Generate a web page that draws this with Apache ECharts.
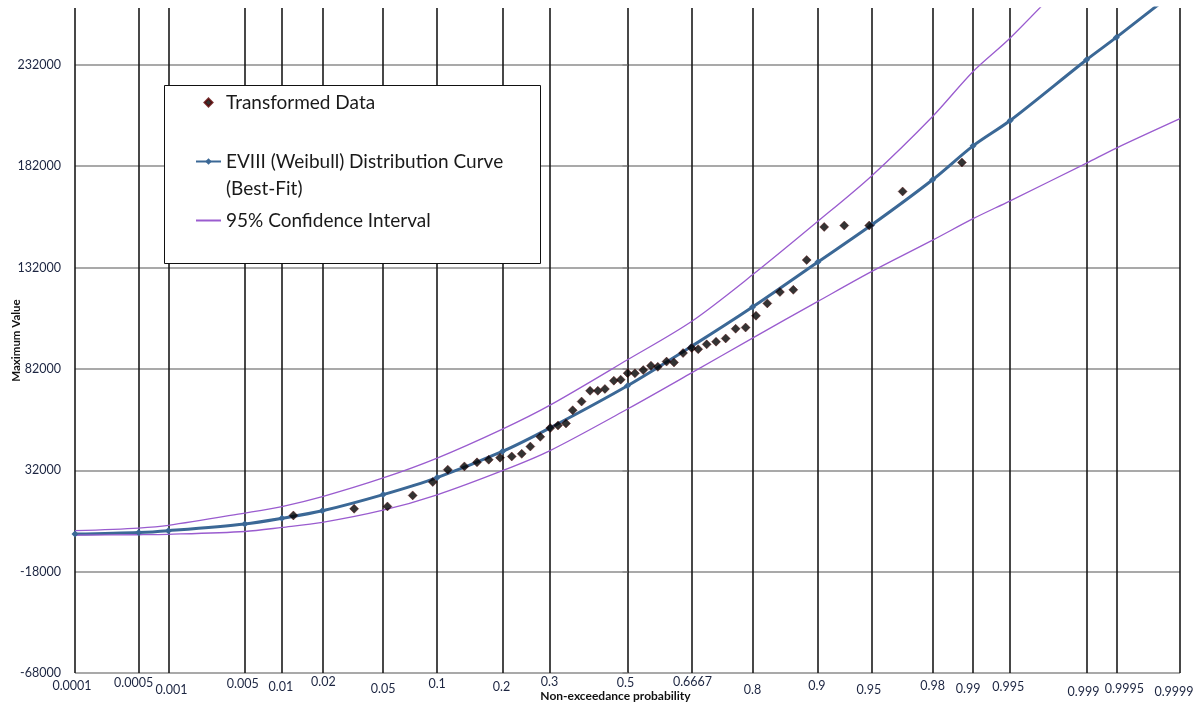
<!DOCTYPE html>
<html><head><meta charset="utf-8">
<script src="https://cdn.jsdelivr.net/npm/echarts@6/dist/echarts.min.js"></script>
<style>html,body{margin:0;padding:0;background:#fff}#c{width:1195px;height:704px}</style>
</head><body><div id="c"></div>
<script>
// ---- data ----
const tickProbabilities = [0.0001,0.0005,0.001,0.005,0.01,0.02,0.05,0.1,0.2,0.3,0.5,0.6667,0.8,0.9,0.95,0.98,0.99,0.995,0.999,0.9995,0.9999];
const tickLabels = ['0.0001','0.0005','0.001','0.005','0.01','0.02','0.05','0.1','0.2','0.3','0.5','0.6667','0.8','0.9','0.95','0.98','0.99','0.995','0.999','0.9995','0.9999'];
const yTickValues = [-68000,-18000,32000,82000,132000,182000,232000];
// EVIII (Weibull) best-fit curve, at the tick probabilities
const fittedValues = [500,1300,2200,5500,8300,12000,20000,28400,41300,52800,73700,93100,112500,134700,153100,175300,192000,204500,234500,245500,270000];
// 95% confidence interval, at the tick probabilities
const upperCI = [2200,3500,4800,10900,14100,19000,28200,38000,52300,64000,86500,105400,128400,154800,177300,206500,228700,245200,284000,299000,333000];
const lowerCI = [0,200,400,1800,3800,6300,12300,19900,31800,41600,62200,80000,97200,115300,130100,145500,156100,164900,183500,190900,205400];
// transformed data: standard normal variate of plotting position, and value
const dataZ = [-2.249,-1.840,-1.616,-1.446,-1.311,-1.210,-1.098,-1.013,-0.934,-0.858,-0.779,-0.712,-0.654,-0.587,-0.520,-0.468,-0.414,-0.369,-0.309,-0.252,-0.200,-0.152,-0.092,-0.046,0.001,0.050,0.106,0.158,0.204,0.263,0.313,0.374,0.432,0.476,0.533,0.596,0.661,0.728,0.795,0.865,0.941,1.026,1.116,1.206,1.324,1.459,1.627,1.852,2.251];
const dataValues = [9700,13000,14150,19600,26200,32300,33900,35900,37200,38200,38800,40100,43700,48500,52800,54100,55100,61600,65900,71200,71200,72100,76200,76700,79900,79800,81400,83600,83000,85600,85200,89800,92300,91700,94100,95400,97000,101800,102400,108200,114300,119900,121000,135700,152000,152700,152700,169500,183800];
// ---- style: per-label nudges of the probability labels (px) ----
const tickLabelDropY = [4,1,8,2,5,0,7,2,5,0,1,0,8,4,8,4,7,5,10,7,10];
const tickLabelShiftX = [-3,-5,3,-2,-1,1,0,0,-1,0,-2,1,0,-1,-3,0,-5,-2,-3,8,-6];

function invNorm(p){
  const a=[-3.969683028665376e+01,2.209460984245205e+02,-2.759285104469687e+02,1.383577518672690e+02,-3.066479806614716e+01,2.506628277459239e+00];
  const b=[-5.447609879822406e+01,1.615858368580409e+02,-1.556989798598866e+02,6.680131188771972e+01,-1.328068155288572e+01];
  const c=[-7.784894002430293e-03,-3.223964580411365e-01,-2.400758277161838e+00,-2.549732539343734e+00,4.374664141464968e+00,2.938163982698783e+00];
  const d=[7.784695709041462e-03,3.224671290700398e-01,2.445134137142996e+00,3.754408661907416e+00];
  const pl=0.02425, ph=1-pl; let q,r;
  if(p<pl){q=Math.sqrt(-2*Math.log(p));return (((((c[0]*q+c[1])*q+c[2])*q+c[3])*q+c[4])*q+c[5])/((((d[0]*q+d[1])*q+d[2])*q+d[3])*q+1);}
  if(p<=ph){q=p-0.5;r=q*q;return (((((a[0]*r+a[1])*r+a[2])*r+a[3])*r+a[4])*r+a[5])*q/(((((b[0]*r+b[1])*r+b[2])*r+b[3])*r+b[4])*r+1);}
  q=Math.sqrt(-2*Math.log(1-p));return -(((((c[0]*q+c[1])*q+c[2])*q+c[3])*q+c[4])*q+c[5])/((((d[0]*q+d[1])*q+d[2])*q+d[3])*q+1);
}
const tickZ = tickProbabilities.map(invNorm);

const FONT = 'Lato';
const LABEL = '#1c2541';
const rich = {};
tickLabels.forEach((t,i)=>{
  const dx = tickLabelShiftX[i];
  rich['t'+i] = {padding:[tickLabelDropY[i], dx<0?-2*dx:0, 0, dx>0?2*dx:0], fontSize:12.5, fontFamily:FONT, color:LABEL};
});

const CURVE = '#3b6896';
const CI = '#9a5ccf';
const chart = echarts.init(document.getElementById('c'), null, {renderer:'canvas'});
chart.setOption({
  animation:false,
  backgroundColor:'#fff',
  grid:{left:75,right:15,top:8,bottom:31,containLabel:false,outerBoundsMode:'none'},
  xAxis:{
    type:'value', min:tickZ[0], max:tickZ[tickZ.length-1],
    name:'Non-exceedance probability', nameLocation:'middle', nameGap:17, nameMoveOverlap:false,
    nameTextStyle:{fontFamily:FONT,fontSize:12,fontWeight:'bold',color:'#111',padding:[0,24,0,0]},
    axisLine:{show:false},
    axisTick:{show:false, customValues:tickZ},
    axisLabel:{customValues:tickZ, margin:2, hideOverlap:false,
      formatter:function(v){
        let i = tickZ.findIndex(z=>Math.abs(z-v)<1e-7);
        if(i<0) return '';
        return '{t'+i+'|'+tickLabels[i]+'}';
      }, rich:rich},
    splitLine:{show:true, lineStyle:{color:'#1a1a1a',width:1.6}}
  },
  yAxis:{
    type:'value', min:-68000, max:260000,
    name:'Maximum Value', nameLocation:'middle', nameGap:53, nameMoveOverlap:false,
    nameTextStyle:{fontFamily:FONT,fontSize:11.5,fontWeight:'bold',color:'#111'},
    axisLine:{show:false},
    axisTick:{show:true, length:5, customValues:yTickValues, lineStyle:{color:'#8c8c8c',width:1.6}},
    axisLabel:{customValues:yTickValues, margin:14, fontFamily:FONT, fontSize:12.5, color:LABEL,
      formatter:function(v){return String(Math.round(v));}},
    splitLine:{show:true, lineStyle:{color:'#8c8c8c',width:1.6}}
  },
  legend:{
    data:[
      {name:'Transformed Data', icon:'path://M5,0L10,5L5,10L0,5Z'},
      {name:'EVIII (Weibull) Distribution Curve'},
      {name:'95% Confidence Interval', itemStyle:{color:'rgba(0,0,0,0)',borderWidth:0,opacity:0}}
    ],
    orient:'vertical', left:195, top:89, padding:0, itemGap:5,
    itemWidth:25, itemHeight:8, z:6,
    textStyle:{fontFamily:FONT,fontSize:19,color:'#1a1a1a',lineHeight:27},
    formatter:function(name){
      if(name==='EVIII (Weibull) Distribution Curve') return ' \nEVIII (Weibull) Distribution Curve\n(Best-Fit)';
      return name;
    }
  },
  graphic:[{type:'rect', z:5, shape:{x:164.5,y:85.5,width:376,height:178}, style:{fill:'#fff',stroke:'#111',lineWidth:1}}],
  series:[
    {name:'EVIII (Weibull) Distribution Curve', type:'line', smooth:0.3, z:3,
      data:tickZ.map((z,i)=>[z,fittedValues[i]]),
      symbol:'diamond', symbolSize:7, showSymbol:true,
      lineStyle:{color:CURVE,width:3}, itemStyle:{color:CURVE}},
    {name:'95% Confidence Interval', type:'line', smooth:0.3, z:3,
      data:tickZ.map((z,i)=>[z,upperCI[i]]),
      symbol:'none', lineStyle:{color:CI,width:1.3}, itemStyle:{color:CI}},
    {name:'95% Confidence Interval', type:'line', smooth:0.3, z:3,
      data:tickZ.map((z,i)=>[z,lowerCI[i]]),
      symbol:'none', lineStyle:{color:CI,width:1.3}, itemStyle:{color:CI}},
    {name:'Transformed Data', type:'scatter', z:4,
      data:dataZ.map((z,i)=>[z,dataValues[i]]),
      symbol:'diamond', symbolSize:9,
      itemStyle:{color:'#000000',borderColor:'#5a0000',borderWidth:0.5}}
  ]
});
</script></body></html>
